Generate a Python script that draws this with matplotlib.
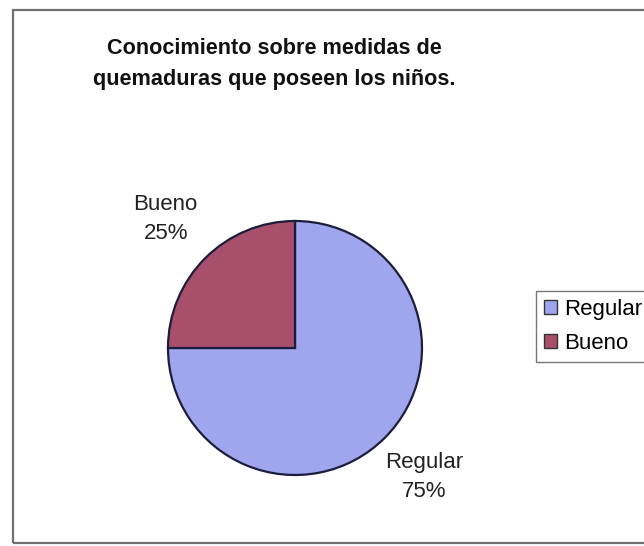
import matplotlib.pyplot as plt
from matplotlib.patches import Rectangle

# data
categories = ['Regular', 'Bueno']
percent = [75, 25]
colors = ['#a0a6ee', '#a84f6c']

plt.rcParams['font.family'] = ['Liberation Sans', 'DejaVu Sans']

W, H = 644, 546
fig = plt.figure(figsize=(W / 100, H / 100), dpi=100)
fig.patch.set_facecolor('white')

# chart frame (runs off the right side like the scan)
fig.patches.append(Rectangle((13 / W, 1 - 543 / H), 700 / W, (543 - 10) / H,
                             transform=fig.transFigure, fill=False,
                             edgecolor='#707070', linewidth=1.6))

fig.text(274 / W, 1 - 64 / H, 'Conocimiento sobre medidas de\nquemaduras que poseen los niños.',
         ha='center', va='center', fontsize=15.6, fontweight='bold',
         linespacing=1.6, color='#111111')

# pie area
cx, cy, r = 295, 348, 127
ax = fig.add_axes([(cx - r) / W, 1 - (cy + r) / H, 2 * r / W, 2 * r / H])
labels = [f'{c}\n{p}%' for c, p in zip(categories, percent)]
wedges, texts = ax.pie(percent, labels=labels, colors=colors, startangle=90,
                       counterclock=False, labeldistance=1.44,
                       wedgeprops=dict(edgecolor='#1c1c3c', linewidth=1.6),
                       textprops=dict(fontsize=16, color='#222222', linespacing=1.5))
for t in texts:
    t.set_horizontalalignment('center')
    t.set_verticalalignment('center')
    t.set_clip_on(False)
ax.set_xlim(-1, 1)
ax.set_ylim(-1, 1)
ax.set_aspect('auto')
ax.axis('off')

leg = fig.legend(wedges, categories, loc='upper left',
                 bbox_to_anchor=(536 / W, 1 - 291 / H), fontsize=16,
                 handlelength=0.6, handleheight=0.6, handletextpad=0.3,
                 labelspacing=0.6, borderpad=0.35, fancybox=False,
                 frameon=True, borderaxespad=0)
leg.get_frame().set_edgecolor('#555555')
leg.get_frame().set_linewidth(1.0)
for h in leg.legend_handles:
    h.set_edgecolor('#333333')
    h.set_linewidth(1.0)

fig.savefig('out.png', dpi=100)
